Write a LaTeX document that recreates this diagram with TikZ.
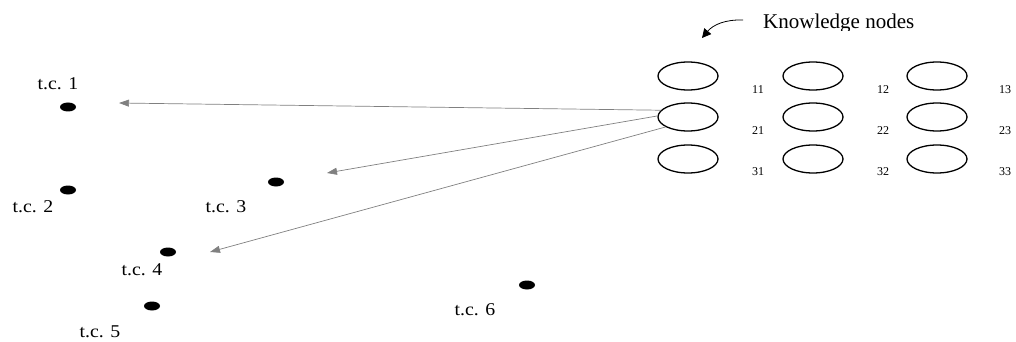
\documentclass[tikz,border=0pt]{standalone}
\usepackage{fontspec}
\setmainfont{Liberation Serif}
\usetikzlibrary{arrows.meta,shapes.geometric}
\tikzset{
  know/.style={ellipse,draw=black,line width=1.3pt,minimum width=60pt,minimum height=28pt,inner sep=0pt},
  dot/.style={ellipse,fill=black,minimum width=16pt,minimum height=9pt,inner sep=0pt},
  tc/.style={font=\fontsize{18}{20}\selectfont,inner sep=0pt},
  idx/.style={font=\fontsize{12}{13}\selectfont,inner sep=0pt},
  link/.style={draw=gray,line width=0.7pt,-{Triangle[length=10pt,width=7pt]}}
}
\newcommand{\tclabel}[1]{\scalebox{1.1}[1]{#1}}
\begin{document}
\begin{tikzpicture}[x=1pt,y=-1pt]
\useasboundingbox (0,0) rectangle (1016,342);
% knowledge nodes
\foreach \r/\yy in {1/76,2/117,3/159}{
  \foreach \c/\xx in {1/688,2/813,3/937}{
    \node[know] (e\r\c) at (\xx,\yy) {};
  }
}
\foreach \r/\yy in {1/90,2/131,3/172}{
  \node[idx] (l\r1) at (758,\yy) {\r1};
  \node[idx] (l\r2) at (883,\yy) {\r2};
  \node[idx] (l\r3) at (1005,\yy) {\r3};
}
% test cases
\node[dot] (d1) at (68,107) {};
\node[dot] (d2) at (68,190) {};
\node[dot] (d3) at (276,182) {};
\node[dot] (d4) at (168,252) {};
\node[dot] (d5) at (152,306) {};
\node[dot] (d6) at (527,285) {};
\node[tc] (t1) at (58,84) {\tclabel{t.c. 1}};
\node[tc] (t2) at (33,207) {\tclabel{t.c. 2}};
\node[tc] (t3) at (226,207) {\tclabel{t.c. 3}};
\node[tc] (t4) at (142,270) {\tclabel{t.c. 4}};
\node[tc] (t5) at (100,332) {\tclabel{t.c. 5}};
\node[tc] (t6) at (475,310) {\tclabel{t.c. 6}};
% arrow targets
\coordinate (a1) at (119,103);
\coordinate (a2) at (327,173);
\coordinate (a3) at (210,252);
\draw[link] (e21.166) -- (a1);
\draw[link] (e21.178) -- (a2);
\draw[link] (e21.204) -- (a3);
% label
\begin{scope}
\clip (600,0) rectangle (1016,30.5);
\node[font=\fontsize{21}{24}\selectfont,inner sep=0pt,anchor=base west] (kn) at (763,29) {Knowledge nodes};
\end{scope}
\coordinate (ks) at (743,20);
\coordinate (kt) at (702,38);
\draw[line width=0.8pt,-{Triangle[length=9pt,width=9pt]}] (ks) to[out=178,in=50] (kt);
\end{tikzpicture}
\end{document}
